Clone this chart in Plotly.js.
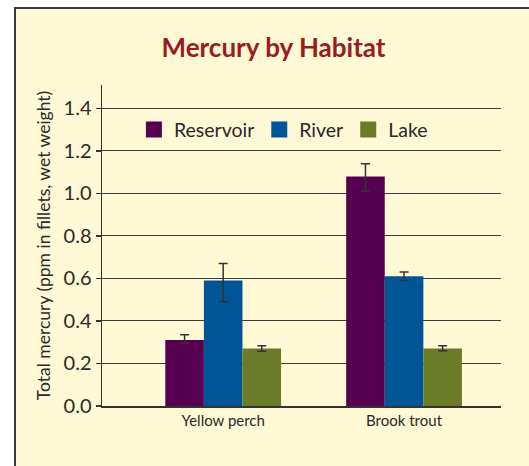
<!DOCTYPE html>
<html>
<head>
<meta charset="utf-8">
<script src="https://cdn.plot.ly/plotly-3.0.1.min.js"></script>
<style>
  html, body { margin: 0; padding: 0; background: #ffffff; width: 529px; height: 466px; overflow: hidden; }
  #chart { position: absolute; left: 14px; top: 7px; width: 515px; height: 459px;
           border-left: 2px solid #3a3a3a; border-top: 2px solid #3a3a3a; }
</style>
</head>
<body>
<div id="chart"></div>
<script>
const categories = ["Yellow perch", "Brook trout"];
const seriesNames = ["Reservoir", "River", "Lake"];
const reservoir = [0.31, 1.08];
const river = [0.59, 0.61];
const lake = [0.27, 0.27];
const reservoirErrPlus = [0.025, 0.06];
const reservoirErrMinus = [0.015, 0.07];
const riverErrPlus = [0.08, 0.02];
const riverErrMinus = [0.10, 0.02];
const lakeErrPlus = [0.014, 0.014];
const lakeErrMinus = [0.012, 0.01];
const yTickVals = [0, 0.2, 0.4, 0.6, 0.8, 1.0, 1.2, 1.4];
const yTickText = ["0.0", "0.2", "0.4", "0.6", "0.8", "1.0", "1.2", "1.4"];
const colors = ["#560052", "#005596", "#6b7b2a"];

const values = [reservoir, river, lake];
const errPlus = [reservoirErrPlus, riverErrPlus, lakeErrPlus];
const errMinus = [reservoirErrMinus, riverErrMinus, lakeErrMinus];

const traces = [];
values.forEach((v, i) => {
  traces.push({
    type: "bar", x: categories, y: v, name: seriesNames[i],
    marker: { color: colors[i], line: { width: 0 } },
    showlegend: false,
    error_y: { type: "data", symmetric: false, array: errPlus[i], arrayminus: errMinus[i],
               color: "#333333", thickness: 1.5, width: 4.5 },
    hoverinfo: "x+y+name"
  });
});
// legend entries
seriesNames.forEach((n, i) => {
  traces.push({
    type: "scatter", mode: "markers", x: [null], y: [null], name: n,
    marker: { symbol: "square", size: 16, color: colors[i] },
    showlegend: true
  });
});

const layout = {
  width: 515, height: 459,
  paper_bgcolor: "#fff9d6", plot_bgcolor: "#fff9d6",
  margin: { l: 86, r: 30, t: 76, b: 62, pad: 0 },
  font: { family: "Lato, 'Open Sans', sans-serif", color: "#2a2a2a" },
  title: { text: "<b>Mercury by Habitat</b>", font: { size: 26, color: "#9b1b22", family: "Lato, sans-serif" },
           xref: "container", x: 0.5, xanchor: "center", yref: "container", y: 0.915, yanchor: "middle" },
  barmode: "group", bargap: 0.36, bargroupgap: 0,
  xaxis: {
    type: "category", range: [-0.67, 1.536], showgrid: false, zeroline: false,
    showline: true, linecolor: "#333333", linewidth: 1.5,
    ticks: "", tickfont: { size: 15, color: "#2a2a2a" }, fixedrange: true
  },
  yaxis: {
    range: [0, 1.51], tickvals: yTickVals, ticktext: yTickText,
    showgrid: true, gridcolor: "#3c3c3c", gridwidth: 1,
    zeroline: false, showline: true, linecolor: "#333333", linewidth: 1.5,
    ticks: "outside", ticklen: 5, tickcolor: "#333333", tickwidth: 1.2,
    tickfont: { size: 20, color: "#2a2a2a" },
    title: { text: "Total mercury (ppm in fillets, wet weight)", font: { size: 17.5, color: "#2a2a2a" }, standoff: 8 },
    fixedrange: true
  },
  legend: { orientation: "h", x: 0.08, xanchor: "left", y: 0.86, yanchor: "middle",
            bgcolor: "rgba(0,0,0,0)", font: { size: 19.5, color: "#2a2a2a" }, itemwidth: 30 },
  showlegend: true
};
Plotly.newPlot("chart", traces, layout, { displayModeBar: false, staticPlot: true });
</script>
</body>
</html>
